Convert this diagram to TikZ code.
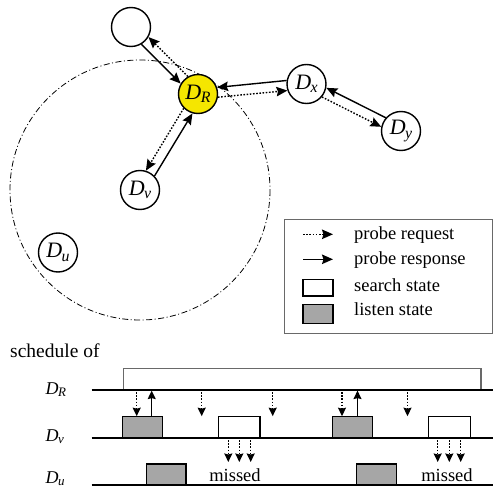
\documentclass[tikz,border=0pt]{standalone}
\usepackage{fontspec}
\setmainfont{Liberation Serif}
\usepackage{graphicx}
\usetikzlibrary{arrows.meta}
\definecolor{dryellow}{RGB}{245,230,0}
\definecolor{lgray}{RGB}{166,166,166}
\definecolor{edgegray}{RGB}{105,105,105}
\newcommand{\Dsub}[1]{\textit{D}\kern-0.5pt\raisebox{-0.35ex}{\scalebox{0.72}{\textit{#1}}}}
\begin{document}
\begin{tikzpicture}[x=1pt,y=-1pt,
  dev/.style={circle, draw, line width=1.4pt, minimum size=39pt, inner sep=0pt, fill=white, font=\fontsize{22}{22}\selectfont},
  req/.style={line width=1.4pt, dash pattern=on 1.6pt off 1.6pt, -{Stealth[length=11pt,width=9.5pt,inset=1.5pt]}},
  resp/.style={line width=1.4pt, -{Stealth[length=11pt,width=9.5pt,inset=1.5pt]}},
  sreq/.style={line width=1.4pt, dash pattern=on 1.6pt off 1.6pt, -{Stealth[length=8.5pt,width=8pt,inset=1pt]}},
  sresp/.style={line width=1.4pt, -{Stealth[length=8.5pt,width=8pt,inset=1pt]}},
  tline/.style={line width=1.4pt},
  listen/.style={draw, line width=1.3pt, fill=lgray},
  search/.style={draw, line width=1.3pt, fill=white},
  txt/.style={font=\fontsize{18.5}{19}\selectfont},
  lab/.style={font=\fontsize{18}{18}\selectfont}]
\useasboundingbox (0,0) rectangle (493,489);
% range circle
\draw[line width=0.8pt, dash pattern=on 6pt off 2.5pt on 1pt off 2.5pt] (140,190) circle[radius=130];
% devices
\node[dev] (T) at (131,27) {};
\node[dev, fill=dryellow] (R) at (198,94) {\Dsub{R}};
\node[dev] (X) at (306.5,84) {\Dsub{x}};
\node[dev] (Y) at (401,131) {\Dsub{y}};
\node[dev] (V) at (140,190) {\Dsub{v}};
\node[dev] (U) at (58,252.5) {\Dsub{u}};
% probe exchanges
\draw[resp] (T.-59.5) -- (R.149.5);
\draw[req] (R.120.5) -- (T.-30.5);
\draw[resp] (X.170.8) -- (R.19.8);
\draw[req] (R.-9.2) -- (X.199.8);
\draw[resp] (Y.139.1) -- (X.-11.9);
\draw[req] (X.-40.9) -- (Y.168.1);
\draw[resp] (V.44.4) -- (R.-106.6);
\draw[req] (R.-135.6) -- (V.73.4);
% legend
\draw[edgegray, line width=1pt] (284,220) rectangle (492,333);
\draw[req] (303,234.3) -- (333,234.3);
\draw[resp] (303,259.3) -- (333,259.3);
\draw[search] (303,279.3) rectangle (333,296);
\draw[listen] (303,304.3) rectangle (333,323.3);
\node[txt, anchor=base west, inner sep=0] at (354,240) {probe request};
\node[txt, anchor=base west, inner sep=0] at (354,265) {probe response};
\node[txt, anchor=base west, inner sep=0] at (354,291) {search state};
\node[txt, anchor=base west, inner sep=0] at (354,316) {listen state};
% schedule
\node[anchor=base west, inner sep=0, font=\fontsize{19.5}{20}\selectfont] at (10,357.5) {schedule of};
\node[lab, anchor=base west, inner sep=0] at (45.5,394) {\Dsub{R}};
\node[lab, anchor=base west, inner sep=0] at (45.5,441) {\Dsub{v}};
\node[lab, anchor=base west, inner sep=0] at (45.5,483) {\Dsub{u}};
\draw[edgegray, line width=1.4pt] (123.3,390) -- (123.3,368.5) -- (481,368.5) -- (481,390);
\draw[tline] (91.7,390) -- (493,390);
\draw[tline] (91.7,438) -- (493,438);
\draw[tline] (91.7,485) -- (493,485);
\draw[listen] (122.7,416.7) rectangle (162.3,438);
\draw[listen] (332.7,416.7) rectangle (372.7,438);
\draw[search] (218.3,416.7) rectangle (260,438);
\draw[search] (428.7,416.7) rectangle (470.3,438);
\draw[listen] (146.7,464) rectangle (186,485);
\draw[listen] (356.7,464) rectangle (396.7,485);
\foreach \x in {136.7,201.7,272.7,342,407.5} \draw[sreq] (\x,392) -- (\x,416.2);
\foreach \x in {151.7,357.5} \draw[sresp] (\x,416.7) -- (\x,390.6);
\foreach \x in {228.3,239.3,250.7,437.7,449.3,460.7} \draw[sreq] (\x,440) -- (\x,462);
\node[txt, anchor=base, inner sep=0] at (235,481) {missed};
\node[txt, anchor=base, inner sep=0] at (447,481) {missed};
\end{tikzpicture}
\end{document}
